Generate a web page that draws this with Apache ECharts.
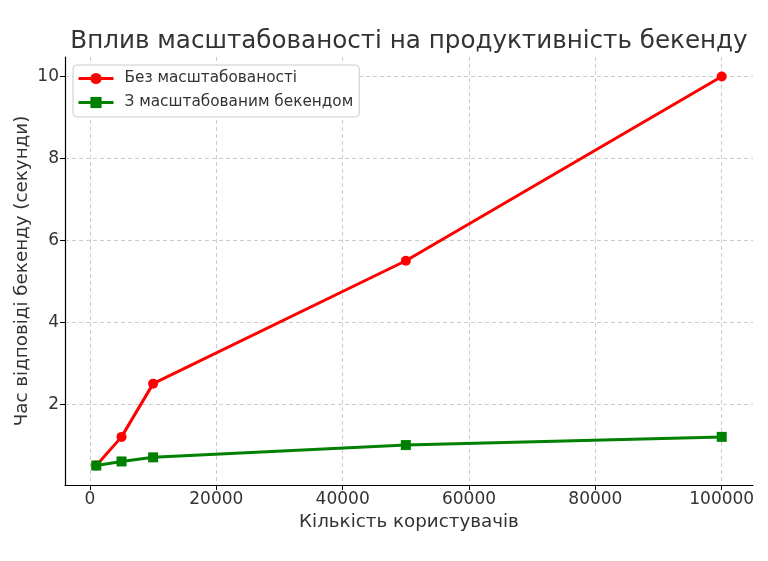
<!DOCTYPE html>
<html>
<head>
<meta charset="utf-8">
<script src="https://cdn.jsdelivr.net/npm/echarts@6/dist/echarts.min.js"></script>
<style>
  html, body { margin: 0; padding: 0; background: #fff; }
  #chart { width: 768px; height: 561px; }
</style>
</head>
<body>
<div id="chart"></div>
<script>
// data
var users = [1000, 5000, 10000, 50000, 100000];
var noScaling = [0.5, 1.2, 2.5, 5.5, 10];
var withScaling = [0.5, 0.6, 0.7, 1.0, 1.2];
var xTicks = [0, 20000, 40000, 60000, 80000, 100000];
var yTicks = [2, 4, 6, 8, 10];

function pairs(xs, ys) {
	return xs.map(function (x, i) { return [x, ys[i]]; });
}

var chart = echarts.init(document.getElementById('chart'));
var font = 'DejaVu Sans';

var option = {
	animation: false,
	title: {
		text: 'Вплив масштабованості на продуктивність бекенду',
		left: 404,
		top: 24,
		textAlign: 'center',
		textStyle: { fontFamily: font, fontSize: 24.6, fontWeight: 'normal', color: '#333' }
	},
	legend: {
		orient: 'vertical',
		left: 73,
		top: 65,
		padding: [6, 6, 7, 4],
		itemWidth: 35,
		itemHeight: 14,
		itemGap: 9,
		backgroundColor: '#fff',
		borderColor: '#ccc',
		borderWidth: 1,
		borderRadius: 4,
		lineStyle: { width: 3 },
		textStyle: { fontFamily: font, fontSize: 15.3, color: '#333', padding: [0, 0, 0, 6] }
	},
	grid: { left: 65, right: 15, top: 57, bottom: 76 },
	xAxis: {
		type: 'value',
		min: -3950,
		max: 104950,
		name: 'Кількість користувачів',
		nameLocation: 'middle',
		nameGap: 28,
		nameMoveOverlap: false,
		nameTextStyle: { fontFamily: font, fontSize: 18.3, color: '#333' },
		axisLine: { onZero: false, lineStyle: { color: '#000', width: 1.2 } },
		axisTick: { show: true, length: 5, customValues: xTicks, lineStyle: { color: '#000' } },
		axisLabel: {
			customValues: xTicks, fontFamily: font, fontSize: 17, color: '#333', margin: 6,
			formatter: function (v) { return String(v); }
		},
		splitLine: { show: true, lineStyle: { color: '#ccc', type: [4, 3] } }
	},
	yAxis: {
		type: 'value',
		min: 0.025,
		max: 10.475,
		name: 'Час відповіді бекенду (секунди)',
		nameLocation: 'middle',
		nameGap: 34,
		nameMoveOverlap: false,
		nameTextStyle: { fontFamily: font, fontSize: 18.3, color: '#333' },
		axisLine: { show: true, onZero: false, lineStyle: { color: '#000', width: 1.2 } },
		axisTick: { show: true, length: 5, customValues: yTicks, lineStyle: { color: '#000' } },
		axisLabel: { customValues: yTicks, fontFamily: font, fontSize: 17, color: '#333', margin: 6 },
		splitLine: { show: true, lineStyle: { color: '#ccc', type: [4, 3] } }
	},
	series: [
		{
			name: 'Без масштабованості',
			type: 'line',
			data: pairs(users, noScaling),
			color: '#ff0000',
			symbol: 'circle',
			symbolSize: 10,
			lineStyle: { width: 3 }
		},
		{
			name: 'З масштабованим бекендом',
			type: 'line',
			data: pairs(users, withScaling),
			color: '#008000',
			symbol: 'rect',
			symbolSize: 10,
			lineStyle: { width: 3 }
		}
	]
};

option && chart.setOption(option);
</script>
</body>
</html>
